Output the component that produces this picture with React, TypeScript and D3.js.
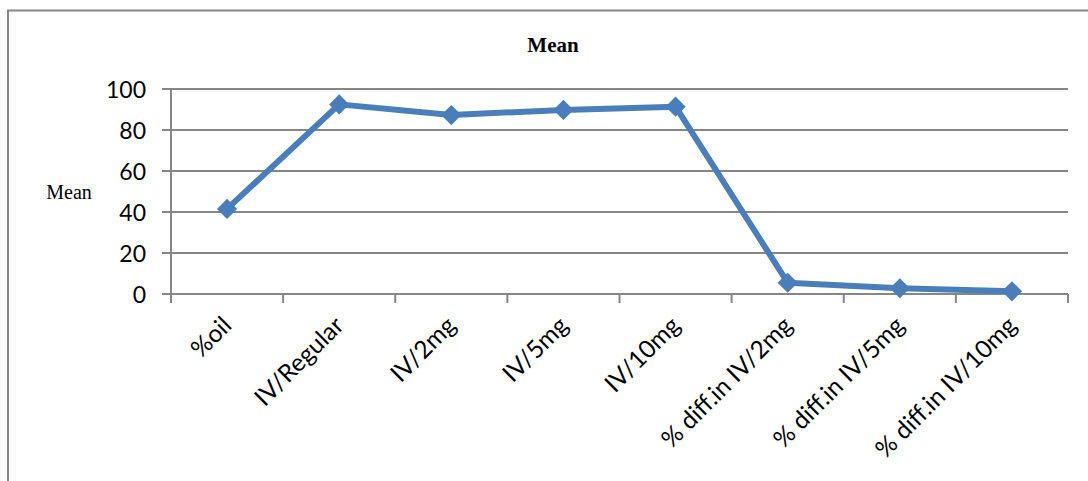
import React from "react";
import * as d3 from "d3";

// Category names along the x axis
const categories = [
  "%oil",
  "IV/Regular",
  "IV/2mg",
  "IV/5mg",
  "IV/10mg",
  "% diff.in IV/2mg",
  "% diff.in IV/5mg",
  "% diff.in IV/10mg",
];

// Mean value for each category
const meanValues = [41.5, 92.5, 87.3, 89.8, 91.4, 5.5, 2.8, 1.3];

// Y axis tick values
const yTicks = [0, 20, 40, 60, 80, 100];

const W = 1088;
const H = 481;
const plot = { left: 171, right: 1068, top: 89, bottom: 294 };

const gridColor = "#868686";
const lineColor = "#4A7EBB";
const sansFont = "Lato, 'Open Sans', sans-serif";
const serifFont = "'Liberation Serif', 'DejaVu Serif', serif";

export default function App() {
  const x = d3
    .scaleBand<string>()
    .domain(categories)
    .range([plot.left, plot.right])
    .padding(0);
  const y = d3.scaleLinear().domain([0, 100]).range([plot.bottom, plot.top]);

  const cx = (c: string) => (x(c) ?? 0) + x.bandwidth() / 2;

  const points = categories.map((c, i) => [cx(c), y(meanValues[i])] as [number, number]);
  const linePath = d3.line()(points) ?? "";

  const diamond = d3.symbol().type(d3.symbolDiamond2).size(260)() ?? "";

  const boundaries = [...categories.map((c) => x(c) ?? 0), plot.right];

  return (
    <svg
      width={W}
      height={H}
      style={{ position: "absolute", left: 0, top: 0, background: "#fff" }}
    >
      {/* chart frame */}
      <rect x={8} y={10.5} width={W + 20} height={H + 20} fill="#fff" stroke={gridColor} strokeWidth={2} />

      {/* title */}
      <text
        x={553}
        y={51.5}
        textAnchor="middle"
        fontFamily={serifFont}
        fontWeight="bold"
        fontSize={21}
        fill="#000"
      >
        Mean
      </text>

      {/* y axis title */}
      <text x={69} y={199} textAnchor="middle" fontFamily={serifFont} fontSize={20} fill="#000">
        Mean
      </text>

      {/* horizontal gridlines with tick stubs */}
      {yTicks.map((t) => (
        <g key={t}>
          <line
            x1={plot.left - 9}
            x2={plot.right}
            y1={y(t)}
            y2={y(t)}
            stroke={gridColor}
            strokeWidth={2}
          />
          <text
            x={146}
            y={y(t) + 8.5}
            textAnchor="end"
            fontFamily={sansFont}
            fontSize={23}
            fill="#000"
          >
            {t}
          </text>
        </g>
      ))}

      {/* y axis line */}
      <line
        x1={plot.left}
        x2={plot.left}
        y1={plot.top}
        y2={plot.bottom}
        stroke={gridColor}
        strokeWidth={2}
      />

      {/* category tick marks */}
      {boundaries.map((b, i) => (
        <line
          key={i}
          x1={b}
          x2={b}
          y1={plot.bottom}
          y2={plot.bottom + 9}
          stroke={gridColor}
          strokeWidth={2}
        />
      ))}

      {/* category labels */}
      {categories.map((c) => (
        <text
          key={c}
          transform={`translate(${cx(c) + 6},${plot.bottom + 33}) rotate(-45)`}
          textAnchor="end"
          fontFamily={sansFont}
          fontSize={24.5}
          fill="#000"
        >
          {c}
        </text>
      ))}

      {/* series line */}
      <path d={linePath} fill="none" stroke={lineColor} strokeWidth={6} strokeLinejoin="round" />

      {/* markers */}
      {points.map(([px, py], i) => (
        <path key={i} d={diamond} transform={`translate(${px},${py})`} fill={lineColor} />
      ))}
    </svg>
  );
}
